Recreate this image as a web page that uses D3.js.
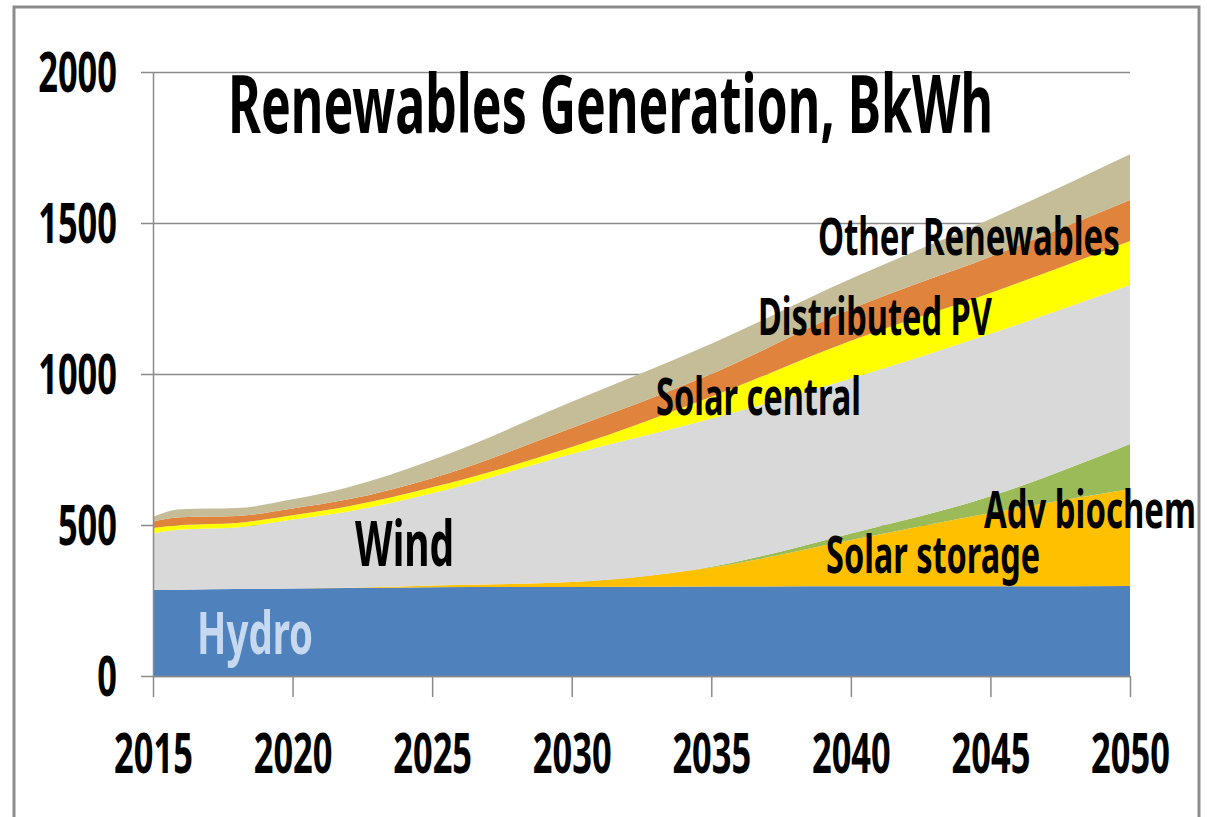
<!DOCTYPE html>
<html>
<head>
<meta charset="utf-8">
<script src="https://cdn.jsdelivr.net/npm/d3@7"></script>
<style>
  body { margin: 0; background: #fff; }
  text { font-family: 'Noto Sans', 'DejaVu Sans', sans-serif; }
</style>
</head>
<body>
<div id="chart"></div>
<script>
// values, BkWh per year
const YEARS = [2015, 2016, 2018, 2020, 2022, 2025, 2030, 2035, 2040, 2045, 2050]
const HYDRO = [285, 286, 288, 290, 291, 294, 295, 296, 297, 297, 298]
const SOLAR_STORAGE = [0, 0, 0, 0, 1, 6, 16, 63, 153, 243, 321]
const ADV_BIOCHEM = [0, 0, 0, 0, 0, 0, 0, 3, 22, 55, 149]
const WIND = [188, 199, 204, 228, 253, 305, 424, 490, 513, 538, 527]
const SOLAR_CENTRAL = [17, 15, 15, 14, 17, 20, 23, 73, 125, 135, 145]
const DISTRIBUTED_PV = [22, 26, 23, 23, 23, 30, 63, 75, 105, 120, 136]
const OTHER_RENEWABLES = [15, 26, 26, 30, 40, 60, 87, 100, 100, 125, 152]

const SERIES = ['Hydro', 'Solar storage', 'Adv biochem', 'Wind', 'Solar central', 'Distributed PV', 'Other Renewables']
const SERIES_VALUES = [HYDRO, SOLAR_STORAGE, ADV_BIOCHEM, WIND, SOLAR_CENTRAL, DISTRIBUTED_PV, OTHER_RENEWABLES]
const COLORS = ['#4f81bd', '#ffc000', '#9bbb59', '#d9d9d9', '#ffff00', '#e0833d', '#c4bd97']

const Y_TICKS = [0, 500, 1000, 1500, 2000]
const X_TICKS = [2015, 2020, 2025, 2030, 2035, 2040, 2045, 2050]

const TITLE = 'Renewables Generation, BkWh'

const WIDTH = 1207
const HEIGHT = 817
const PLOT = { left: 153, right: 1130, top: 72, bottom: 676 }
const AXIS_COLOR = '#8a8a8a'
const DIGIT_WIDTH = 19.7

// label anchors in data units (year, value) plus drawn width and size
const LABELS = [
  { text: 'Hydro', year: 2016.58, value: 73, width: 116, size: 60, fill: '#c6d9f1' },
  { text: 'Wind', year: 2022.24, value: 364, width: 99, size: 62, fill: '#000' },
  { text: 'Solar storage', year: 2039.11, value: 341, width: 214, size: 52, fill: '#000' },
  { text: 'Adv biochem', year: 2044.77, value: 490, width: 212, size: 52, fill: '#000' },
  { text: 'Solar central', year: 2033.02, value: 864, width: 205, size: 52, fill: '#000' },
  { text: 'Distributed PV', year: 2036.67, value: 1129, width: 234, size: 52, fill: '#000' },
  { text: 'Other Renewables', year: 2038.82, value: 1394, width: 302, size: 52, fill: '#000' }
]

const rows = YEARS.map((year, i) => {
  const row = { year: year }
  SERIES.forEach((name, s) => { row[name] = SERIES_VALUES[s][i] })
  return row
})

const svg = d3.select('#chart')
  .append('svg')
  .attr('width', WIDTH)
  .attr('height', HEIGHT)

// outer frame
svg.append('rect')
  .attr('x', 14)
  .attr('y', 7)
  .attr('width', 1185)
  .attr('height', 900)
  .attr('fill', 'none')
  .attr('stroke', '#8c8c8c')
  .attr('stroke-width', 3)

const xScale = d3.scaleLinear()
  .domain([YEARS[0], YEARS[YEARS.length - 1]])
  .range([PLOT.left, PLOT.right])

const yScale = d3.scaleLinear()
  .domain([0, 2000])
  .range([PLOT.bottom, PLOT.top])

// horizontal gridlines
svg.append('g')
  .attr('transform', 'translate(' + PLOT.left + ',0)')
  .call(d3.axisLeft(yScale).tickValues(Y_TICKS).tickSize(-(PLOT.right - PLOT.left)).tickFormat(''))
  .call(g => g.select('.domain').remove())
  .call(g => g.selectAll('line').attr('stroke', AXIS_COLOR).attr('stroke-width', 1.5))

// stacked areas
const stack = d3.stack().keys(SERIES)
const layers = stack(rows)

const area = d3.area()
  .curve(d3.curveMonotoneX)
  .x(d => xScale(d.data.year))
  .y0(d => yScale(d[0]))
  .y1(d => yScale(d[1]))

svg.append('g')
  .selectAll('path')
  .data(layers)
  .enter()
  .append('path')
  .attr('fill', (d, i) => COLORS[i])
  .attr('d', area)

// y axis
const yAxis = svg.append('g')
  .attr('transform', 'translate(' + PLOT.left + ',0)')
  .call(d3.axisLeft(yScale).tickValues(Y_TICKS).tickSize(12).tickSizeOuter(0).tickPadding(24).tickFormat(d3.format('d')))
yAxis.selectAll('path, line').attr('stroke', AXIS_COLOR).attr('stroke-width', 1.5)
yAxis.selectAll('text')
  .attr('fill', '#000')
  .attr('font-size', 56)
  .attr('font-weight', 'bold')
  .attr('dy', 0)
  .attr('y', 19)
  .attr('textLength', d => String(d).length * DIGIT_WIDTH)
  .attr('lengthAdjust', 'spacingAndGlyphs')

// x axis
const xAxis = svg.append('g')
  .attr('transform', 'translate(0,' + PLOT.bottom + ')')
  .call(d3.axisBottom(xScale).tickValues(X_TICKS).tickSize(21).tickSizeOuter(0).tickFormat(d3.format('d')))
xAxis.selectAll('path, line').attr('stroke', AXIS_COLOR).attr('stroke-width', 1.5)
xAxis.selectAll('text')
  .attr('fill', '#000')
  .attr('font-size', 56)
  .attr('font-weight', 'bold')
  .attr('dy', 0)
  .attr('y', 97)
  .attr('textLength', d => String(d).length * DIGIT_WIDTH)
  .attr('lengthAdjust', 'spacingAndGlyphs')

// title
svg.append('text')
  .attr('x', xScale(2017.69))
  .attr('y', yScale(1798))
  .attr('font-size', 81)
  .attr('font-weight', 'bold')
  .attr('textLength', 765)
  .attr('lengthAdjust', 'spacingAndGlyphs')
  .text(TITLE)

// series labels
svg.append('g')
  .selectAll('text')
  .data(LABELS)
  .enter()
  .append('text')
  .attr('x', d => xScale(d.year))
  .attr('y', d => yScale(d.value))
  .attr('font-size', d => d.size)
  .attr('font-weight', 'bold')
  .attr('fill', d => d.fill)
  .attr('textLength', d => d.width)
  .attr('lengthAdjust', 'spacingAndGlyphs')
  .text(d => d.text)
</script>
</body>
</html>
